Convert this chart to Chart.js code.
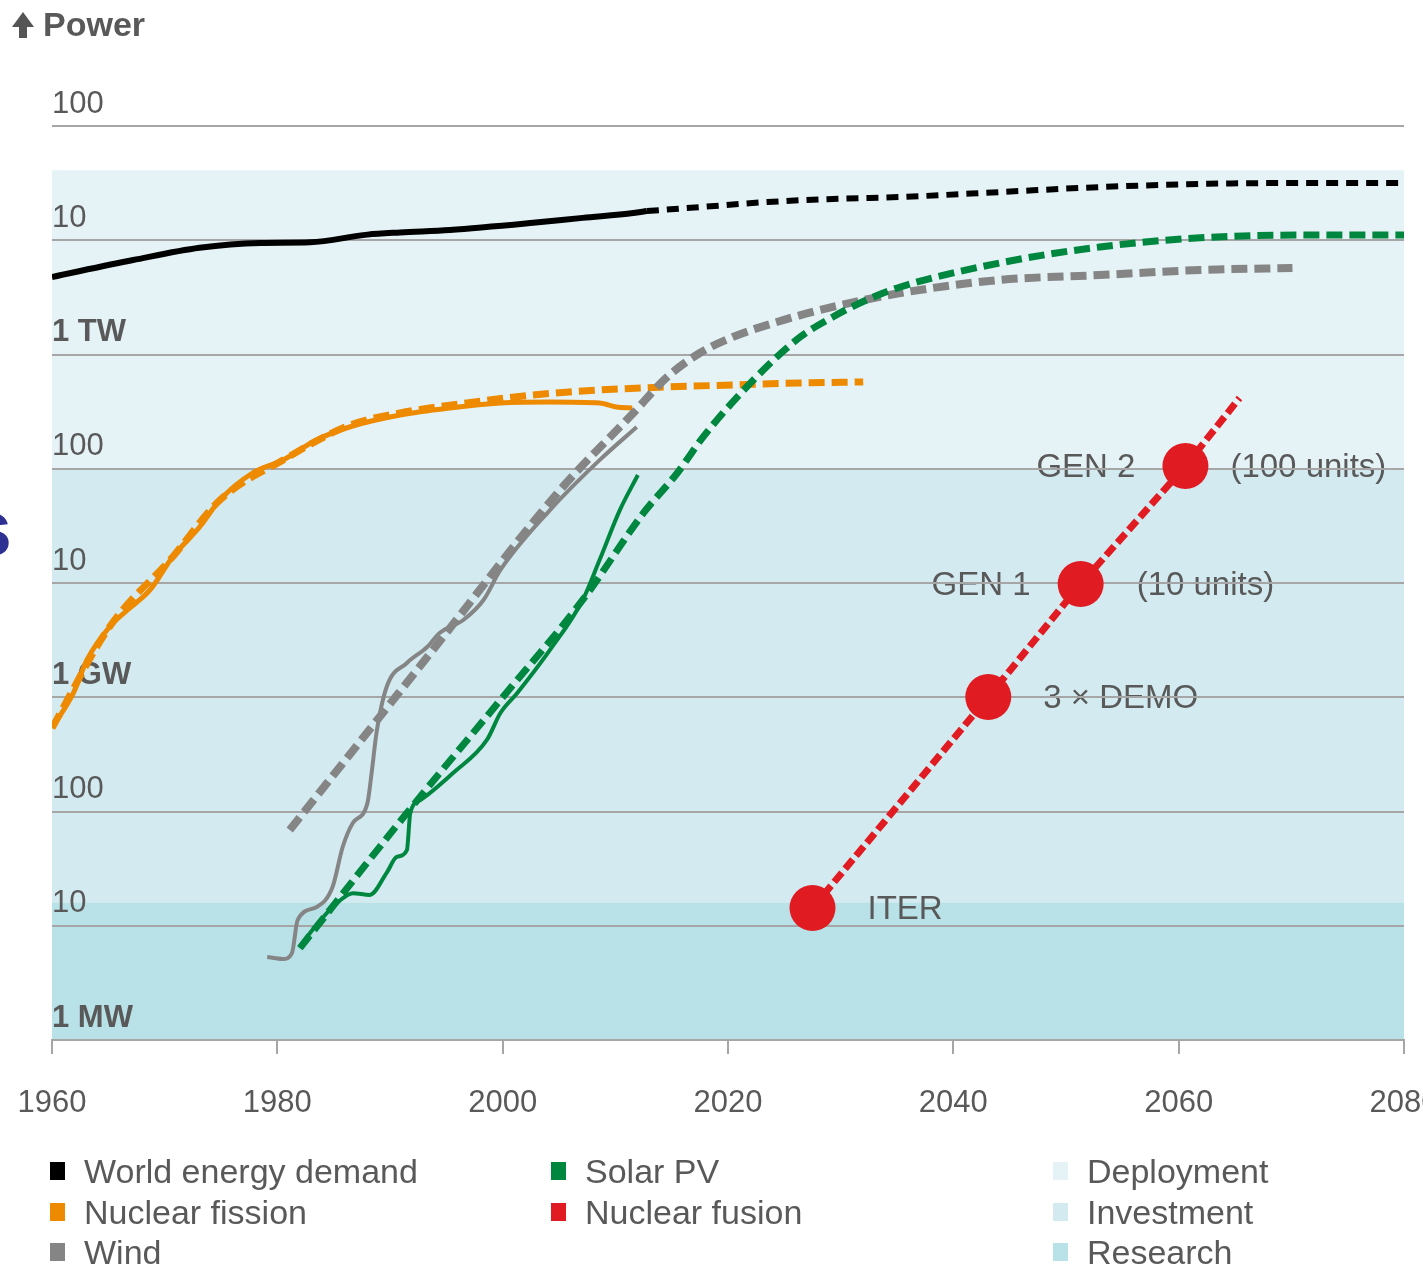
<!DOCTYPE html>
<html>
<head>
<meta charset="utf-8">
<script src="https://cdn.jsdelivr.net/npm/chart.js@4.4.1/dist/chart.umd.min.js"></script>
<style>
  body { margin: 0; background: #fff; font-family: "Liberation Sans", Arial, sans-serif; }
  #wrap { position: relative; width: 1423px; height: 1268px; overflow: hidden; }
  #chart { position: absolute; left: 0; top: 0; }
  .title { position: absolute; left: 43px; top: 4px; font-size: 34px; font-weight: bold; color: #595959; line-height: 40px; }
  .arrow { position: absolute; left: 12px; top: 12px; width: 0; height: 0;
           border-left: 11px solid transparent; border-right: 11px solid transparent; border-bottom: 15px solid #555; }
  .stem { position: absolute; left: 19px; top: 26px; width: 8px; height: 12px; background: #555; }
  .cut { position: absolute; left: -31px; top: 490px; font-size: 77px; line-height: 77px; font-weight: bold; color: #2e3192; }
  .leg { position: absolute; font-size: 34px; line-height: 40px; color: #595959; white-space: nowrap; }
  .leg i { position: absolute; width: 15px; height: 18px; top: 11px; }
</style>
</head>
<body>
<div id="wrap">
  <canvas id="chart" width="1423" height="1268"></canvas>
  <div class="arrow"></div><div class="stem"></div>
  <div class="title">Power</div>
  <div class="cut">s</div>
  <div id="legend"></div>
</div>
<script>
// values in MW, years on x
const demandYears = [1960, 1967.2, 1973.1, 1978.5, 1982.9, 1988.0, 1990.9, 1995.3, 2002.7, 2007.1, 2011.6, 2012.8];
const demandValues = [4.77e6, 6.71e6, 8.6e6, 9.47e6, 9.6e6, 1.12e7, 1.17e7, 1.23e7, 1.42e7, 1.57e7, 1.73e7, 1.80e7];
const demandProjYears = [2012.8, 2017.5, 2023.5, 2029.3, 2035.3, 2044.1, 2053.0, 2061.9, 2070.8, 2080];
const demandProjValues = [1.80e7, 1.95e7, 2.16e7, 2.30e7, 2.39e7, 2.64e7, 2.92e7, 3.11e7, 3.17e7, 3.17e7];

const fissionYears = [1960, 1961.9, 1963.1, 1965.1, 1966.7, 1968.7, 1970.7, 1973.1, 1974.9, 1977.8, 1980.5, 1983.5, 1986.4, 1990.9, 1995.3, 1999.8, 2004.2, 2008.6, 2010.1, 2011.5];
const fissionValues = [538, 1090, 2120, 4120, 5800, 8690, 16900, 30900, 53200, 91800, 119000, 179000, 232000, 295000, 340000, 376000, 384000, 376000, 347000, 340000];
const fissionProjYears = [1960, 1965.1, 1970.7, 1974.9, 1980.5, 1986.4, 1990.9, 1996.8, 2002.7, 2008.6, 2014.6, 2020.4, 2026.4, 2032.0];
const fissionProjValues = [538, 4120, 16900, 53200, 119000, 240000, 308000, 376000, 442000, 489000, 520000, 541000, 563000, 575000];

const windYears = [1979.1, 1980.5, 1981.3, 1981.8, 1983.5, 1984.9, 1985.8, 1986.7, 1988.0, 1988.4, 1988.8, 1989.7, 1991.5, 1993.3, 1994.4, 1996.5, 1998.3, 1999.8, 2004.2, 2008.6, 2011.9];
const windValues = [5.33, 5.12, 5.77, 11.2, 14.6, 21.8, 48.9, 79.3, 119, 231, 487, 1230, 1995, 2754, 3650, 4745, 7100, 13000, 43500, 119000, 232000];
const windProjYears = [1981.1, 1993.8, 2005.1, 2011.6, 2014.6, 2017.5, 2020.4, 2024.9, 2029.3, 2035.3, 2044.1, 2053.0, 2061.9, 2070.1];
const windProjValues = [68.9, 2594, 65200, 307600, 635000, 1.03e6, 1.42e6, 2.0e6, 2.61e6, 3.45e6, 4.49e6, 4.96e6, 5.49e6, 5.72e6];

const solarYears = [1982.0, 1982.9, 1985.6, 1986.7, 1988.2, 1989.7, 1990.6, 1991.5, 1991.8, 1992.7, 1995.6, 1998.6, 1999.8, 2001.3, 2004.2, 2007.1, 2008.6, 2010.4, 2012.0];
const solarValues = [6.4, 8.64, 16.8, 19.3, 18.6, 29, 40, 46, 97, 126, 217, 423, 728, 1090, 2594, 7100, 15900, 43500, 88200];
const solarProjYears = [1982.0, 1991.5, 1999.8, 2007.1, 2012.5, 2015.5, 2017.8, 2022.0, 2026.4, 2029.3, 2032.3, 2035.3, 2044.1, 2053.0, 2061.9, 2070.8, 2080];
const solarProjValues = [6.38, 97, 946, 7100, 41000, 91800, 190000, 564000, 1.42e6, 2.13e6, 3.0e6, 3.9e6, 6.32e6, 8.73e6, 1.05e7, 1.11e7, 1.11e7];

const fusionYears = [2027.5, 2043.1, 2051.3, 2060.6, 2065.4];
const fusionValues = [14.3, 1005, 9800, 105700, 416000];
const fusionNames = ['ITER', '3 × DEMO', 'GEN 1', 'GEN 2'];
const fusionNotes = ['', '', '(10 units)', '(100 units)'];

const yTickValues = [1, 10, 100, 1e3, 1e4, 1e5, 1e6, 1e7, 1e8];
const yTickLabels = ['1 MW', '10', '100', '1 GW', '10', '100', '1 TW', '10', '100'];

const bandNames = ['Deployment', 'Investment', 'Research'];
const bandTops = [4.1e7, 1e5, 16];
const bandBottoms = [1e5, 16, 1];
const bandColors = ['#e5f3f7', '#d2eaf0', '#b8e1e8'];

const seriesNames = ['World energy demand', 'Nuclear fission', 'Wind', 'Solar PV', 'Nuclear fusion'];
const seriesColors = ['#000000', '#ee8a00', '#858585', '#00873f', '#e11b22'];

const pts = (xs, ys) => xs.map((x, i) => ({ x: x, y: ys[i] }));

function line(xs, ys, color, width, dash, order) {
  return {
    data: pts(xs, ys),
    borderColor: color,
    borderWidth: width,
    borderDash: dash || [],
    borderCapStyle: 'butt',
    pointRadius: 0,
    cubicInterpolationMode: 'monotone',
    fill: false,
    order: order
  };
}

const datasets = [
  line(demandProjYears, demandProjValues, seriesColors[0], 6, [12, 8], 8),
  line(demandYears, demandValues, seriesColors[0], 6, null, 7),
  line(fissionYears, fissionValues, seriesColors[1], 5, null, 6),
  line(windYears, windValues, seriesColors[2], 4, null, 5),
  line(solarYears, solarValues, seriesColors[3], 4, null, 4),
  line(fissionProjYears, fissionProjValues, seriesColors[1], 7, [16, 7], 3),
  line(windProjYears, windProjValues, seriesColors[2], 8, [16, 7], 2),
  line(solarProjYears, solarProjValues, seriesColors[3], 7, [16, 7], 1),
  {
    data: pts(fusionYears, fusionValues),
    borderColor: seriesColors[4],
    borderWidth: 7,
    borderDash: [12, 5],
    pointRadius: fusionYears.map((y, i) => i < fusionNames.length ? 23 : 0),
    pointBackgroundColor: seriesColors[4],
    pointBorderWidth: 0,
    tension: 0,
    fill: false,
    order: 0
  }
];

// bands and fusion labels go under the grid lines
const backdrop = {
  id: 'backdrop',
  beforeDraw(chart) {
    const { ctx, chartArea: a, scales: { x, y } } = chart;
    ctx.save();
    bandNames.forEach((n, i) => {
      const t = y.getPixelForValue(bandTops[i]);
      const b = y.getPixelForValue(bandBottoms[i]);
      ctx.fillStyle = bandColors[i];
      ctx.fillRect(a.left, t, a.right - a.left, b - t);
    });
    ctx.font = '33px "Liberation Sans", Arial, sans-serif';
    ctx.fillStyle = '#595959';
    ctx.textBaseline = 'middle';
    fusionNames.forEach((n, i) => {
      const px = x.getPixelForValue(fusionYears[i]);
      const py = y.getPixelForValue(fusionValues[i]) + 2;
      if (fusionNotes[i]) {
        ctx.textAlign = 'right';
        ctx.fillText(n, px - 50, py);
        ctx.textAlign = 'left';
        ctx.fillText(fusionNotes[i], px + (i == 3 ? 45 : 56), py);
      } else {
        ctx.textAlign = 'left';
        ctx.fillText(n, px + 55, py);
      }
    });
    ctx.restore();
  }
};

new Chart(document.getElementById('chart'), {
  type: 'line',
  data: { datasets: datasets },
  options: {
    responsive: false,
    animation: false,
    events: [],
    layout: { autoPadding: false, padding: { left: 52, right: 19, top: 126, bottom: 0 } },
    plugins: { legend: { display: false }, tooltip: { enabled: false } },
    scales: {
      x: {
        type: 'linear',
        min: 1960,
        max: 2080,
        afterFit: (s) => { s.height = 228; s.paddingLeft = 0; s.paddingRight = 0; },
        ticks: {
          stepSize: 20,
          padding: 31,
          color: '#595959',
          font: { size: 31, family: '"Liberation Sans", Arial, sans-serif' },
          maxRotation: 0,
          callback: (v) => String(v)
        },
        grid: { drawOnChartArea: false, drawTicks: true, tickLength: 14, color: '#a6a6a6', lineWidth: 2 },
        border: { display: true, color: '#a6a6a6', width: 2 }
      },
      y: {
        type: 'logarithmic',
        min: 1,
        max: 1e8,
        afterFit: (s) => { s.width = 0; s.paddingTop = 0; s.paddingBottom = 0; },
        afterBuildTicks: (s) => { s.ticks = yTickValues.map(v => ({ value: v })); },
        ticks: {
          mirror: true,
          padding: 0,
          labelOffset: -22,
          autoSkip: false,
          color: '#595959',
          font: (c) => ({
            size: 31,
            family: '"Liberation Sans", Arial, sans-serif',
            weight: c.tick && /[A-Z]/.test(yTickLabels[c.index]) ? 'bold' : 'normal'
          }),
          callback: (v, i) => yTickLabels[i]
        },
        grid: { drawTicks: false, color: '#a6a6a6', lineWidth: 2 },
        border: { display: false }
      }
    }
  },
  plugins: [backdrop]
});

// legend
const legendItems = seriesNames.map((n, i) => ({ name: n, color: seriesColors[i] }))
  .concat(bandNames.map((n, i) => ({ name: n, color: bandColors[i] })));
const legendPos = [[50, 1151], [50, 1192], [50, 1232], [551, 1151], [551, 1192], [1053, 1151], [1053, 1192], [1053, 1232]];
const legend = document.getElementById('legend');
legendItems.forEach((it, i) => {
  const d = document.createElement('div');
  d.className = 'leg';
  d.style.left = legendPos[i][0] + 'px';
  d.style.top = legendPos[i][1] + 'px';
  d.style.paddingLeft = '34px';
  d.innerHTML = '<i style="left:0;background:' + it.color + '"></i>' + it.name;
  legend.appendChild(d);
});
</script>
</body>
</html>
